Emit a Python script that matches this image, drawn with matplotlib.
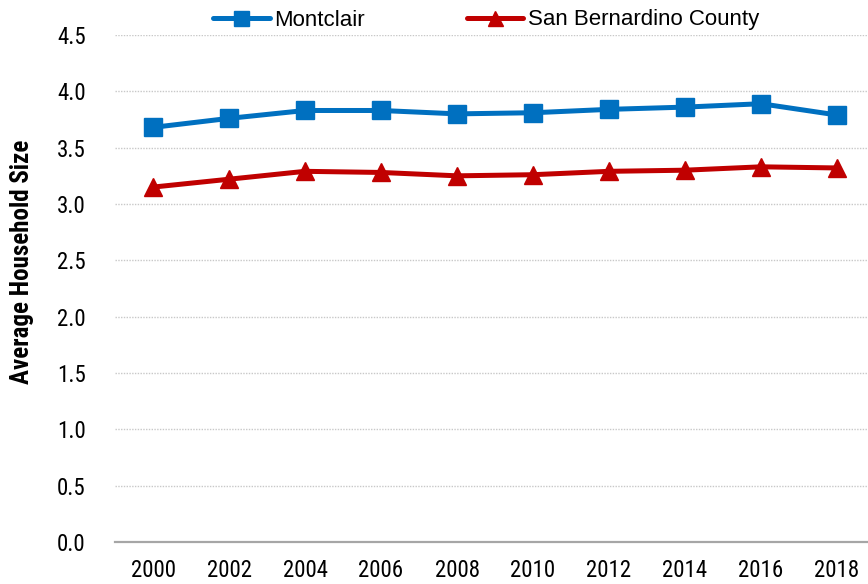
import matplotlib
matplotlib.use("Agg")
import matplotlib.pyplot as plt
import numpy as np

years = ["2000", "2002", "2004", "2006", "2008", "2010", "2012", "2014", "2016", "2018"]
montclair = [3.68, 3.76, 3.83, 3.83, 3.80, 3.81, 3.84, 3.86, 3.89, 3.79]
san_bernardino = [3.15, 3.22, 3.29, 3.28, 3.25, 3.26, 3.29, 3.30, 3.33, 3.32]
yticks = [0.0, 0.5, 1.0, 1.5, 2.0, 2.5, 3.0, 3.5, 4.0, 4.5]

NARROW = ["Roboto Condensed", "DejaVu Sans"]

W, H = 868, 584
fig = plt.figure(figsize=(W / 100, H / 100), dpi=100)
left, right, top, bottom = 115, 875, 35, 542
ax = fig.add_axes([left / W, 1 - bottom / H, (right - left) / W, (bottom - top) / H])

x = np.arange(len(years))
l1, = ax.plot(x, montclair, color="#0070C0", lw=3.6, marker="s", ms=13.5,
              label="Montclair", solid_capstyle="round")
l2, = ax.plot(x, san_bernardino, color="#C00000", lw=3.6, marker="^", ms=13.5,
              label="San Bernardino County", solid_capstyle="round")

ax.set_xlim(-0.5, len(years) - 0.5)
ax.set_ylim(0, 4.5)
ax.set_yticks(yticks)
ax.set_yticklabels([f"{v:.1f}" for v in yticks])
ax.set_xticks(x)
ax.set_xticklabels(years)

for lab in ax.get_xticklabels() + ax.get_yticklabels():
    lab.set_fontfamily(NARROW)
    lab.set_fontsize(16.5)
ax.tick_params(axis="both", length=0)
ax.tick_params(axis="y", pad=21)
ax.tick_params(axis="x", pad=12)

for s in ["top", "right", "left"]:
    ax.spines[s].set_visible(False)
ax.spines["bottom"].set_color("#a6a6a6")
ax.spines["bottom"].set_linewidth(1.6)

ax.yaxis.grid(True, linestyle=(0, (1, 1)), color="#c8c8c8", linewidth=1.0)
ax.set_axisbelow(True)

fig.text(22 / W, 1 - 262 / H, "Average Household Size", rotation=90,
         ha="center", va="center", fontsize=18, fontweight="bold",
         family=NARROW)

leg = fig.legend(handles=[l1, l2], loc="center", bbox_to_anchor=(486 / W, 1 - 20 / H),
                 ncol=2, frameon=False, handlelength=2.55, handletextpad=0.2,
                 columnspacing=4.6, markerscale=0.8,
                 prop=dict(family=["Liberation Sans", "DejaVu Sans"], size=16))

fig.savefig("out.png", dpi=100)
